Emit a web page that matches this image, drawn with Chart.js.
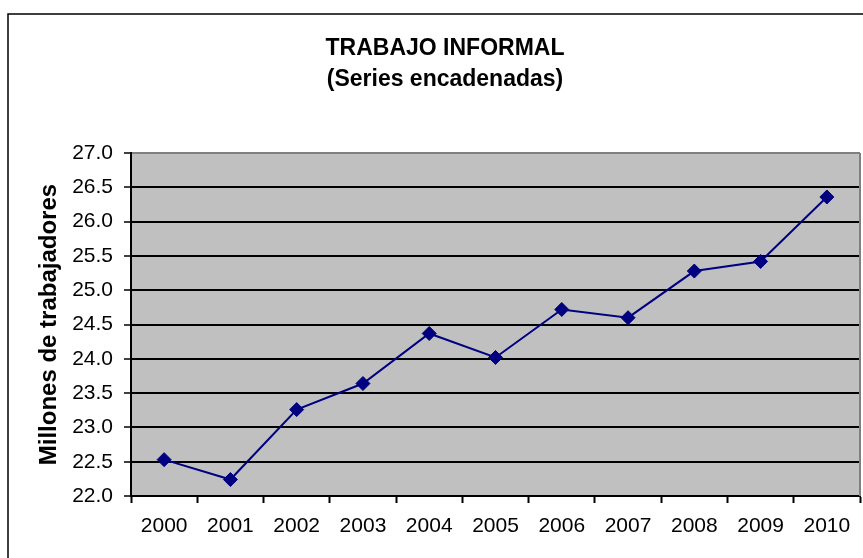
<!DOCTYPE html>
<html>
<head>
<meta charset="utf-8">
<title>Trabajo informal</title>
<script src="https://cdn.jsdelivr.net/npm/chart.js@4"></script>
<style>
    body { margin: 0; background: #fff; }
    #chart { display: block; }
</style>
</head>
<body>
<canvas id="chart" width="863" height="558"></canvas>
<script>
// Data
const years = ['2000', '2001', '2002', '2003', '2004', '2005', '2006', '2007', '2008', '2009', '2010'];
const workers = [22.53, 22.24, 23.26, 23.64, 24.37, 24.02, 24.72, 24.60, 25.28, 25.42, 26.36];
const yMin = 22.0;
const yMax = 27.0;
const yStep = 0.5;

const fontFamily = '"Liberation Sans", Arial, sans-serif';

// Grey plot background, grey right edge and the outer frame
const frame = {
    id: 'frame',
    beforeDraw(chart) {
        const { ctx, chartArea } = chart;
        ctx.save();
        ctx.fillStyle = '#C0C0C0';
        ctx.fillRect(chartArea.left, chartArea.top, chartArea.right - chartArea.left, chartArea.bottom - chartArea.top);
        ctx.restore();
    },
    afterDraw(chart) {
        const { ctx, chartArea } = chart;
        ctx.save();
        ctx.strokeStyle = '#808080';
        ctx.lineWidth = 2;
        ctx.beginPath();
        ctx.moveTo(chartArea.right, chartArea.top);
        ctx.lineTo(chartArea.right, chartArea.bottom);
        ctx.stroke();
        ctx.strokeStyle = '#000';
        ctx.lineWidth = 1.5;
        ctx.strokeRect(8, 14, 1000, 700);
        ctx.restore();
    }
};

const ctx = document.getElementById('chart').getContext('2d');
const chart = new Chart(ctx, {
    type: 'line',
    data: {
        labels: years,
        datasets: [{
            data: workers,
            borderColor: '#000080',
            borderWidth: 2,
            backgroundColor: '#000080',
            pointStyle: 'rectRot',
            pointRadius: 7,
            pointBorderWidth: 1,
            tension: 0
        }]
    },
    options: {
        responsive: false,
        animation: false,
        layout: { autoPadding: false, padding: { top: 0, right: 3, left: 30, bottom: 0 } },
        plugins: {
            legend: { display: false },
            tooltip: { enabled: false },
            title: {
                display: true,
                text: ['TRABAJO INFORMAL', '(Series encadenadas)'],
                color: '#000',
                font: { family: fontFamily, size: 23, weight: 'bold', lineHeight: 1.35 },
                padding: { top: 33, bottom: 58 }
            }
        },
        scales: {
            x: {
                offset: true,
                grid: {
                    offset: true,
                    drawOnChartArea: false,
                    drawTicks: true,
                    tickLength: 7,
                    tickWidth: 2,
                    tickColor: '#000'
                },
                border: { color: '#000', width: 2 },
                ticks: {
                    color: '#000',
                    padding: 11,
                    maxRotation: 0,
                    font: { family: fontFamily, size: 21 }
                },
                afterFit(scale) {
                    scale.height = 62;
                    scale.paddingLeft = 0;
                    scale.paddingRight = 0;
                }
            },
            y: {
                min: yMin,
                max: yMax,
                grid: {
                    color: (c) => (c.tick && c.tick.value === yMax ? '#808080' : '#000'),
                    lineWidth: 2,
                    tickLength: 7,
                    tickColor: '#000',
                    tickWidth: 1.5
                },
                border: { color: '#000', width: 2 },
                ticks: {
                    stepSize: yStep,
                    color: '#000',
                    padding: 11,
                    font: { family: fontFamily, size: 21 },
                    callback: (v) => Number(v).toFixed(1)
                },
                title: {
                    display: true,
                    text: 'Millones de trabajadores',
                    color: '#000',
                    font: { family: fontFamily, size: 24, weight: 'bold' },
                    padding: { top: 5, bottom: 0 }
                },
                afterFit(scale) { scale.width = 101; }
            }
        }
    },
    plugins: [frame]
});
</script>
</body>
</html>
